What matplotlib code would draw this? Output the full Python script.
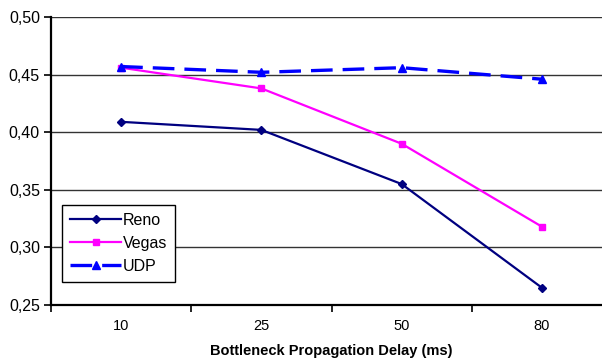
import matplotlib.pyplot as plt
from matplotlib.ticker import FuncFormatter

# === Data ===
delays = ["10", "25", "50", "80"]
reno = [0.409, 0.402, 0.355, 0.265]
vegas = [0.456, 0.438, 0.390, 0.318]
udp = [0.457, 0.452, 0.456, 0.446]

plt.rcParams["font.family"] = ["Liberation Sans", "DejaVu Sans"]

fig = plt.figure(figsize=(6.02, 3.62), dpi=100)
# plot area runs a little past the right edge of the figure
ax = fig.add_axes([51 / 602, 1 - 305 / 362, 561 / 602, 288 / 362])

x = list(range(len(delays)))
ax.plot(x, reno, color="#000080", lw=1.6, marker="D", ms=4.5, label="Reno")
ax.plot(x, vegas, color="#FF00FF", lw=1.6, marker="s", ms=5, label="Vegas")
ax.plot(x, udp, color="#0000FF", lw=2.4, ls=(0, (6.5, 3)), marker="^", ms=5.5, label="UDP")

# === Axes ===
ax.set_xlim(-0.5, len(delays) - 0.5)
ax.set_ylim(0.25, 0.50)
ax.set_yticks([0.25, 0.30, 0.35, 0.40, 0.45, 0.50])
ax.yaxis.set_major_formatter(FuncFormatter(lambda v, _: f"{v:.2f}".replace(".", ",")))
ax.set_xticks(x)
ax.set_xticklabels(delays)
ax.set_xticks([i - 0.5 for i in range(len(delays) + 1)], minor=True)
ax.tick_params(axis="x", which="major", length=0, pad=10, labelsize=10.5)
ax.tick_params(axis="x", which="minor", length=5, width=1.2, direction="out")
ax.tick_params(axis="y", length=5, width=1.2, direction="out", labelsize=11.5, pad=3)
ax.grid(axis="y", color="#333333", lw=1)
ax.set_axisbelow(True)
for s in ["top", "right"]:
    ax.spines[s].set_visible(False)
ax.spines["left"].set_linewidth(1.6)
ax.spines["bottom"].set_linewidth(1.6)

ax.set_xlabel("Bottleneck Propagation Delay (ms)", fontweight="bold", fontsize=10.5, labelpad=8)

leg = ax.legend(loc="lower left", bbox_to_anchor=(11 / 561, 23 / 288), fancybox=False,
                framealpha=1, edgecolor="black", fontsize=11.5, handlelength=3.2,
                borderpad=0.5, labelspacing=0.5, handletextpad=0.1, borderaxespad=0)
leg.get_frame().set_linewidth(1)

plt.savefig("out.png", dpi=100)
plt.close()
